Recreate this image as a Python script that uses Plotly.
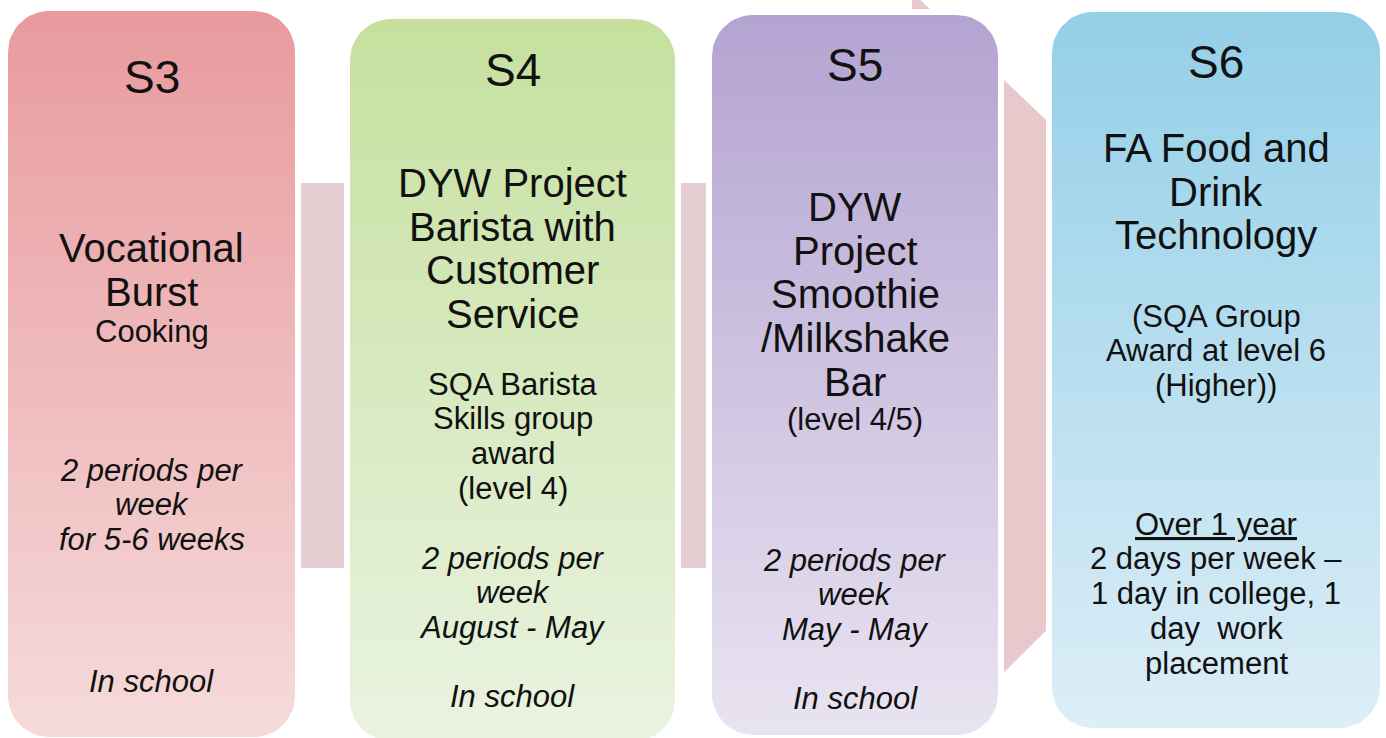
import numpy as np
import plotly.graph_objects as go

# ---------------- data (text content) ----------------
stages = ["S3", "S4", "S5", "S6"]
titles = [
    ["Vocational", "Burst"],
    ["DYW Project", "Barista with", "Customer", "Service"],
    ["DYW", "Project", "Smoothie", "/Milkshake", "Bar"],
    ["FA Food and", "Drink", "Technology"],
]
subtitles = [
    ["Cooking"],
    ["SQA Barista", "Skills group", "award", "(level 4)"],
    ["(level 4/5)"],
    ["(SQA Group", "Award at level 6", "(Higher))"],
]
schedules = [
    ["2 periods per", "week", "for 5-6 weeks"],
    ["2 periods per", "week", "August - May"],
    ["2 periods per", "week", "May - May"],
    ["Over 1 year", "2 days per week \u2013", "1 day in college, 1", "day  work", "placement"],
]
locations = [["In school"], ["In school"], ["In school"], []]

# ---------------- layout (positions / styles) ----------------
W, H = 1386, 738
box_left = [8, 350, 712, 1052]
box_right = [295, 675, 998, 1380]
box_top = [11, 19, 15, 12]
box_bottom = [737, 741, 735, 728]
radius = 44
top_colors = ["#e89a9d", "#c5e09e", "#b3a3d1", "#93cfe8"]
bottom_colors = ["#f6dbdb", "#eaf3e1", "#e9e4f1", "#ddeef7"]

stage_y = [77, 70, 65, 62]
title_y0 = [248, 183, 207, 148]
title_dy = 43.7
sub_y0 = [331, 384, 419, 316]
small_dy = 34.8
sched_y0 = [470, 558, 560, 524]
loc_y = [681, 696, 698, None]
sched_italic = [True, True, True, False]
sched_underline_first = [False, False, False, True]

FONT = "Arial, Liberation Sans, sans-serif"
stage_size, title_size, small_size = 46, 40, 31

shaft_color = "#e6cfd2"
head_color = "#e7c9cc"


def rounded_rect(x0, x1, y0, y1, r, n=14):
    xs, ys = [], []
    corners = [
        (x0 + r, y0 + r, np.pi, 1.5 * np.pi),
        (x1 - r, y0 + r, 1.5 * np.pi, 2 * np.pi),
        (x1 - r, y1 - r, 0.0, 0.5 * np.pi),
        (x0 + r, y1 - r, 0.5 * np.pi, np.pi),
    ]
    for cx, cy, a0, a1 in corners:
        t = np.linspace(a0, a1, n)
        xs.extend(cx + r * np.cos(t))
        ys.extend(cy + r * np.sin(t))
    xs.append(xs[0])
    ys.append(ys[0])
    return xs, ys


fig = go.Figure()

# background arrow: shaft + head
fig.add_shape(type="rect", x0=200, x1=916, y0=183, y1=568, layer="below",
              fillcolor=shaft_color, line=dict(width=0))
fig.add_shape(type="path", path="M 912,-8 L 1308,370 L 912,764 Z", layer="below",
              fillcolor=head_color, line=dict(width=0))

pad = 3
for i in range(len(stages)):
    xs, ys = rounded_rect(box_left[i] - pad, box_right[i] + pad,
                          box_top[i] - pad, box_bottom[i] + pad, radius)
    fig.add_trace(go.Scatter(
        x=xs, y=ys, mode="lines", fill="toself",
        line=dict(color="white", width=6),
        fillgradient=dict(type="vertical",
                          colorscale=[[0, bottom_colors[i]], [1, top_colors[i]]]),
        hoverinfo="skip", showlegend=False,
    ))

anns = []


def add_text(x, y, text, size):
    anns.append(dict(x=x, y=y, xref="x", yref="y", text=text, showarrow=False,
                     xanchor="center", yanchor="middle",
                     font=dict(family=FONT, size=size, color="#111111")))


for i in range(len(stages)):
    cx = (box_left[i] + box_right[i]) / 2
    add_text(cx, stage_y[i], stages[i], stage_size)
    for k, t in enumerate(titles[i]):
        add_text(cx, title_y0[i] + k * title_dy, t, title_size)
    for k, t in enumerate(subtitles[i]):
        add_text(cx, sub_y0[i] + k * small_dy, t, small_size)
    for k, t in enumerate(schedules[i]):
        s = t
        if sched_italic[i]:
            s = "<i>" + s + "</i>"
        if sched_underline_first[i] and k == 0:
            s = "<u>" + s + "</u>"
        add_text(cx, sched_y0[i] + k * small_dy, s, small_size)
    for t in locations[i]:
        add_text(cx, loc_y[i], "<i>" + t + "</i>", small_size)

fig.update_layout(
    width=W, height=H,
    margin=dict(l=0, r=0, t=0, b=0),
    paper_bgcolor="white", plot_bgcolor="white",
    xaxis=dict(range=[0, W], visible=False, fixedrange=True),
    yaxis=dict(range=[H, 0], visible=False, fixedrange=True),
    annotations=anns,
    showlegend=False,
)

fig.write_html(
    "out.html",
    config={"displayModeBar": False},
    post_script="document.body.style.margin='0';document.body.style.overflow='hidden';",
)
